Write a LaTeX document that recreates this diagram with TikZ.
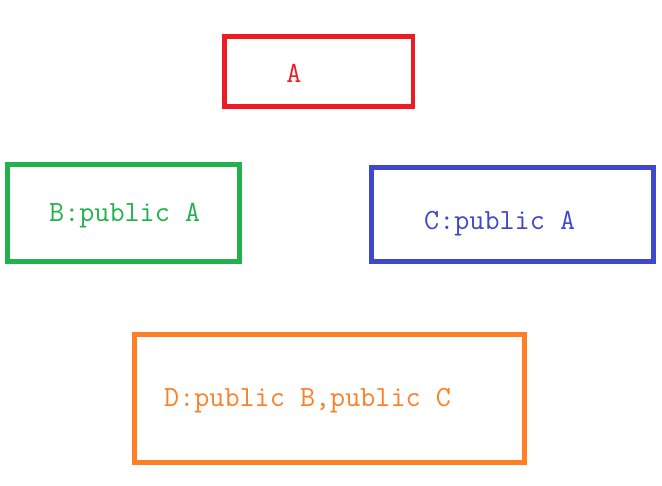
\documentclass[tikz,border=0pt]{standalone}
\usepackage{fontspec}
\definecolor{boxred}{HTML}{ED1C24}
\definecolor{boxgreen}{HTML}{22B14C}
\definecolor{boxblue}{HTML}{3F48CC}
\definecolor{boxorange}{HTML}{FF7F27}
\begin{document}
\begin{tikzpicture}[x=1pt, y=-1pt,
  classbox/.style={draw, line width=4.5pt, inner sep=0pt},
  classlabel/.style={inner sep=0pt, font=\fontsize{29.3}{32}\selectfont\ttfamily}]
  \useasboundingbox (0,0) rectangle (662,486);
  % Klasse A
  \node[classbox, draw=boxred, minimum width=188.5pt, minimum height=70pt] (boxA) at (318.75,71.5) {};
  \node[classlabel, text=boxred, anchor=base] (textA) at (294,83) {A};
  % Klasse B
  \node[classbox, draw=boxgreen, minimum width=232pt, minimum height=97pt] (boxB) at (123.5,213) {};
  \node[classlabel, text=boxgreen, anchor=base west] (textB) at (49,222) {B:public A};
  % Klasse C
  \node[classbox, draw=boxblue, minimum width=282pt, minimum height=94pt] (boxC) at (512.5,214.5) {};
  \node[classlabel, text=boxblue, anchor=base west] (textC) at (424,230) {C:public A};
  % Klasse D
  \node[classbox, draw=boxorange, minimum width=390pt, minimum height=128pt] (boxD) at (329.5,398.5) {};
  \node[classlabel, text=boxorange, anchor=base west] (textD) at (164,407) {D:public B,public C};
\end{tikzpicture}
\end{document}
